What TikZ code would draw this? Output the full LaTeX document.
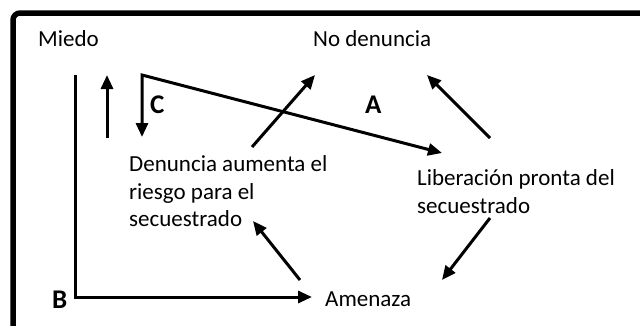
\documentclass[tikz,border=0pt]{standalone}
\usepackage{fontspec}
\setmainfont{Carlito}
\usetikzlibrary{arrows.meta}
\tikzset{
  txt/.style={anchor=base west, inner sep=0pt, font=\fontsize{23}{27.5}\selectfont, align=left},
  lbl/.style={anchor=base west, inner sep=0pt, font=\fontsize{27}{27}\bfseries\selectfont},
  arr/.style={line width=3pt, -{Triangle[length=14pt,width=12pt]}},
  dbl/.style={line width=3pt, {Triangle[length=14pt,width=12pt]}-{Triangle[length=14pt,width=12pt]}, line join=miter},
  frame/.style={line width=5.5pt, rounded corners=7pt}
}
\begin{document}
\begin{tikzpicture}[x=1pt,y=-1pt]
\useasboundingbox (0,0) rectangle (640,325);
\fill[white] (0,0) rectangle (640,325);
\draw[frame] (13,340) -- (13,13) -- (660,13);
% text nodes (base anchor = baseline of the last line)
\node[txt] (miedo) at (38,46.5) {Miedo};
\node[txt] (nodenuncia) at (313,46.5) {No denuncia};
\node[txt] (denuncia) at (129,226.7) {Denuncia aumenta el\\riesgo para el\\secuestrado};
\node[txt] (liberacion) at (417,213.3) {Liberación pronta del\\secuestrado};
\node[txt] (amenaza) at (325,306.5) {Amenaza};
\node[lbl] (labA) at (365,113) {A};
\node[lbl] (labB) at (52,308) {B};
\node[lbl] (labC) at (150,113) {C};
% connector end points
\coordinate (bTop) at (75,75);
\coordinate (bCorner) at (75,297);
\coordinate (bEnd) at (312,297);
\coordinate (upS) at (107,138);
\coordinate (upE) at (107,75);
\coordinate (cDown) at (142,137);
\coordinate (cCorner) at (142,75);
\coordinate (cEnd) at (442,153);
\coordinate (dS) at (252,147);
\coordinate (dE) at (315,75);
\coordinate (lS) at (490,138);
\coordinate (lE) at (427,75);
\coordinate (aS) at (300,280);
\coordinate (aE) at (253,221);
\coordinate (l2S) at (490,218);
\coordinate (l2E) at (442,280);
% connectors
\draw[arr, line join=miter] (bTop) -- (bCorner) -- (bEnd);
\draw[arr] (upS) -- (upE);
\draw[dbl] (cDown) -- (cCorner) -- (cEnd);
\draw[arr] (dS) -- (dE);
\draw[arr] (lS) -- (lE);
\draw[arr] (aS) -- (aE);
\draw[arr] (l2S) -- (l2E);
\end{tikzpicture}
\end{document}
